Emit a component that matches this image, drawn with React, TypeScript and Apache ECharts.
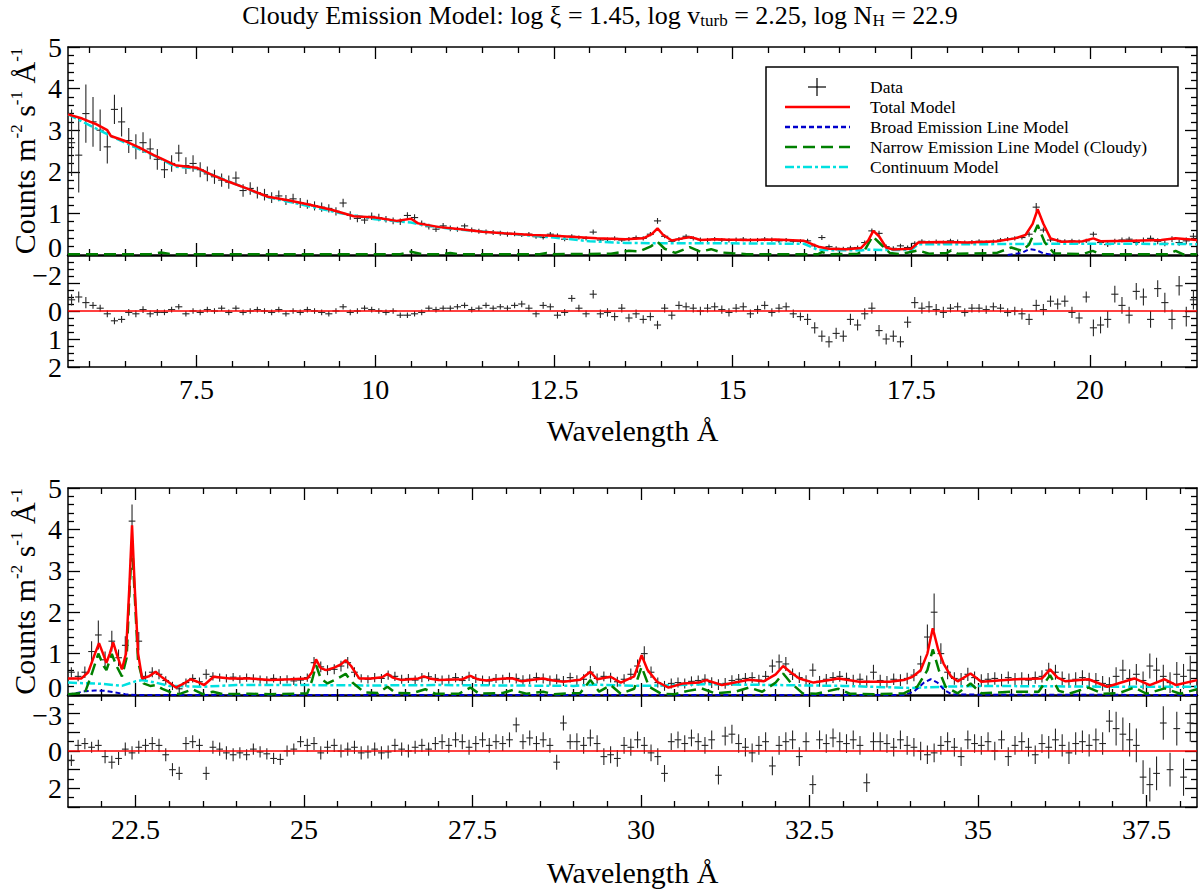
import { useEffect, useRef } from 'react';
import * as echarts from 'echarts';

const FONT = '"Liberation Serif", "Times New Roman", Times, serif';

// wavelength ranges of the two halves (Å)
const TOP_RANGE = [5.7, 21.5];
const BOTTOM_RANGE = [21.5, 38.25];
const TOP_MAJOR = [7.5, 10, 12.5, 15, 17.5, 20];
const BOTTOM_MAJOR = [22.5, 25, 27.5, 30, 32.5, 35, 37.5];

// data bins: 0.1 Å wide, centres start at these wavelengths
const BIN = 0.1;
const TOP_BIN_START = 5.75;
const BOTTOM_BIN_START = 21.55;

// ---- upper half: 5.75 .. 21.45 Å ----
const topFlux = [
  2.7, 2.4, 3.4,
  3.2, 3.0, 2.6, 3.5, 3.2, 2.75, 2.6, 2.7, 2.55, 2.3,
  2.05, 2.2, 2.45, 2.15, 2.2, 2.05, 1.95, 1.88, 1.8, 1.75,
  1.85, 1.55, 1.6, 1.5, 1.45, 1.38, 1.42, 1.32, 1.35, 1.25,
  1.22, 1.18, 1.15, 1.12, 1.05, 1.25, 0.95, 0.88, 0.84, 0.93,
  0.9, 0.86, 0.82, 0.8, 0.95, 0.9, 0.76, 0.68, 0.62, 0.7,
  0.64, 0.62, 0.7, 0.6, 0.57, 0.55, 0.54, 0.52, 0.5, 0.51,
  0.48, 0.5, 0.44, 0.42, 0.5, 0.47, 0.38, 0.45, 0.42, 0.4,
  0.55, 0.36, 0.37, 0.4, 0.36, 0.38, 0.42, 0.4, 0.5, 0.82,
  0.45, 0.33, 0.38, 0.45, 0.4, 0.37, 0.36, 0.38, 0.36, 0.35,
  0.37, 0.38, 0.35, 0.36, 0.38, 0.37, 0.34, 0.36, 0.33, 0.33,
  0.34, 0.22, 0.42, 0.2, 0.16, 0.15, 0.17, 0.18, 0.3, 0.58,
  0.52, 0.2, 0.16, 0.22, 0.18, 0.28, 0.33, 0.3, 0.32, 0.3,
  0.34, 0.32, 0.3, 0.31, 0.33, 0.3, 0.32, 0.36, 0.38, 0.4,
  0.42, 0.5, 1.15, 0.6, 0.36, 0.35, 0.33, 0.34, 0.32, 0.34,
  0.5, 0.3, 0.25, 0.33, 0.36, 0.38, 0.3, 0.35, 0.4, 0.33,
  0.28, 0.38, 0.3, 0.34, 0.45,
];
const topErr = [
  0.8, 0.9, 0.7,
  0.6, 0.5, 0.4, 0.35, 0.35, 0.3, 0.3, 0.25, 0.25, 0.25,
  0.2, 0.2, 0.2, 0.2, 0.2, 0.18, 0.18, 0.17, 0.16, 0.16,
  0.16, 0.15, 0.15, 0.14, 0.14, 0.13, 0.13, 0.12, 0.12, 0.12,
  0.11, 0.11, 0.11, 0.1, 0.1, 0.1, 0.1, 0.09, 0.09, 0.09,
  0.09, 0.08, 0.08, 0.08, 0.08, 0.08, 0.07, 0.07, 0.07, 0.07,
  0.07, 0.06, 0.06, 0.06, 0.06, 0.06, 0.06, 0.06, 0.06, 0.06,
  0.05, 0.05, 0.05, 0.05, 0.05, 0.05, 0.05, 0.05, 0.05, 0.05,
  0.06, 0.05, 0.05, 0.05, 0.05, 0.05, 0.05, 0.05, 0.05, 0.07,
  0.05, 0.05, 0.05, 0.05, 0.05, 0.05, 0.05, 0.05, 0.05, 0.05,
  0.05, 0.05, 0.05, 0.05, 0.05, 0.05, 0.05, 0.05, 0.05, 0.05,
  0.05, 0.05, 0.06, 0.05, 0.05, 0.05, 0.05, 0.05, 0.05, 0.06,
  0.06, 0.05, 0.05, 0.05, 0.05, 0.05, 0.05, 0.05, 0.05, 0.05,
  0.05, 0.05, 0.05, 0.05, 0.05, 0.05, 0.05, 0.05, 0.05, 0.05,
  0.05, 0.06, 0.1, 0.06, 0.05, 0.05, 0.05, 0.05, 0.05, 0.05,
  0.06, 0.06, 0.06, 0.06, 0.06, 0.06, 0.07, 0.07, 0.07, 0.07,
  0.07, 0.07, 0.08, 0.08, 0.08,
];
const topResid = [
  -0.4, -0.5, -0.3,
  -0.2, -0.1, 0.1, 0.35, 0.3, 0.05, 0.1, -0.05, 0.1, 0.05,
  0.05, -0.05, -0.15, 0.1, 0, 0.05, -0.05, 0, -0.1, 0.05,
  -0.1, 0.05, 0, -0.05, 0, 0.05, -0.05, 0.1, 0, 0.05,
  -0.05, 0, 0.05, 0.1, 0, -0.15, 0.05, 0, -0.1, -0.05,
  0, 0.05, 0, 0.15, 0.15, 0.1, 0.05, -0.1, -0.05, -0.1,
  -0.1, -0.15, -0.2, -0.05, -0.1, -0.2, -0.1, -0.15, -0.1, -0.2,
  -0.25, -0.1, 0.1, -0.2, -0.15, 0.15, 0.05, -0.45, -0.1, 0.1,
  -0.6, 0.1, 0.05, 0.2, -0.1, 0.25, 0.1, 0.3, 0.2, 0.5,
  -0.1, 0.15, -0.2, -0.15, -0.1, 0, -0.1, -0.15, -0.05, 0.05,
  -0.1, -0.15, 0.1, -0.05, -0.2, 0.05, -0.1, -0.15, 0.1, 0.2,
  0.3, 0.6, 0.9, 1.1, 0.8, 0.9, 0.3, 0.5, 0.1, -0.1,
  0.7, 1.0, 0.9, 1.1, 0.4, -0.3, -0.1, -0.15, -0.05, 0.05,
  -0.1, -0.15, 0.05, -0.1, -0.1, -0.05, -0.15, -0.1, 0.05, 0,
  0.1, 0.3, -0.2, -0.05, -0.35, -0.25, -0.35, 0.05, 0.25, -0.5,
  0.6, 0.5, 0.3, -0.6, -0.2, 0.15, -0.7, -0.5, 0.3, -0.8,
  -0.3, 0.3, -0.9, 0.2, -0.4,
];
// residual error per whole Å, starting at 5 Å
const topResidErr = [0.2, 0.12, 0.1, 0.1, 0.1, 0.1, 0.1, 0.12, 0.15, 0.15, 0.15, 0.2, 0.2, 0.15, 0.2, 0.3, 0.35];

const topTotal = [
  [5.7, 3.38], [5.9, 3.28], [6.1, 3.14], [6.25, 3.0], [6.3, 2.86], [6.5, 2.74], [6.7, 2.58], [6.9, 2.4],
  [7.0, 2.32], [7.2, 2.16], [7.5, 2.1], [7.7, 1.94], [7.95, 1.76], [8.2, 1.6], [8.5, 1.4], [8.8, 1.31],
  [9.1, 1.2], [9.4, 1.08], [9.7, 0.93], [10.0, 0.9], [10.3, 0.82], [10.5, 0.87], [10.6, 0.76], [10.9, 0.67],
  [11.2, 0.62], [11.5, 0.56], [11.8, 0.52], [12.2, 0.48], [12.5, 0.46], [12.8, 0.43], [13.1, 0.4], [13.5, 0.38],
  [13.75, 0.4], [13.87, 0.5], [13.95, 0.64], [14.03, 0.48], [14.15, 0.35], [14.3, 0.4], [14.42, 0.43], [14.55, 0.36],
  [14.75, 0.38], [14.9, 0.37], [15.2, 0.36], [15.6, 0.37], [16.0, 0.34], [16.2, 0.2], [16.35, 0.15], [16.6, 0.14],
  [16.8, 0.17], [16.9, 0.35], [16.97, 0.58], [17.05, 0.45], [17.15, 0.18], [17.25, 0.13], [17.5, 0.15], [17.6, 0.3],
  [17.9, 0.31], [18.3, 0.3], [18.7, 0.33], [18.95, 0.4], [19.1, 0.48], [19.2, 0.75], [19.27, 1.1], [19.35, 0.75],
  [19.45, 0.4], [19.6, 0.32], [19.9, 0.33], [20.05, 0.4], [20.15, 0.33], [20.6, 0.34], [21.0, 0.36], [21.2, 0.4],
  [21.5, 0.36],
];
const topContinuum = [
  [5.7, 3.38], [6.3, 2.86], [7.0, 2.31], [7.2, 2.12], [7.5, 2.08], [8.5, 1.39], [9.5, 1.01], [10.0, 0.86],
  [10.5, 0.78], [10.6, 0.74], [11.0, 0.64], [12.0, 0.49], [12.5, 0.42], [13.0, 0.33], [13.5, 0.29], [14.0, 0.28],
  [15.0, 0.28], [16.0, 0.27], [16.2, 0.12], [16.8, 0.11], [16.9, 0.13], [17.1, 0.12], [17.5, 0.12], [17.6, 0.26],
  [18.5, 0.26], [19.5, 0.27], [20.5, 0.27], [21.5, 0.26],
];
const topNarrow = [
  [5.7, 0.02], [6.85, 0.02], [7.0, 0.06], [7.15, 0.02], [10.35, 0.02], [10.5, 0.08], [10.65, 0.02], [10.95, 0.02],
  [11.05, 0.05], [11.15, 0.02], [12.3, 0.02], [12.4, 0.05], [12.5, 0.02], [13.3, 0.03], [13.55, 0.1], [13.7, 0.09],
  [13.85, 0.2], [13.95, 0.32], [14.05, 0.15], [14.2, 0.05], [14.4, 0.19], [14.55, 0.08], [14.7, 0.14], [14.85, 0.06],
  [15.0, 0.04], [15.2, 0.02], [16.2, 0.02], [16.25, 0.07], [16.35, 0.02], [16.75, 0.03], [16.85, 0.12], [16.96, 0.45],
  [17.05, 0.3], [17.2, 0.05], [17.35, 0.02], [17.6, 0.11], [17.75, 0.03], [18.0, 0.05], [18.06, 0.11], [18.15, 0.03],
  [18.7, 0.05], [18.9, 0.18], [19.05, 0.1], [19.15, 0.25], [19.27, 0.72], [19.37, 0.3], [19.5, 0.04], [19.9, 0.02],
  [20.04, 0.1], [20.15, 0.02], [21.1, 0.02], [21.2, 0.1], [21.3, 0.02], [21.5, 0.02],
];
// only the part above zero shows in the upper plot
const topBroad = [
  [18.85, 0], [19.05, 0.05], [19.15, 0.14], [19.25, 0.12], [19.35, 0.04], [19.5, 0],
];

// ---- lower half: 21.55 .. 38.15 Å ----
const bottomFlux = [
  0.55, 0.45, 0.55, 1.05, 1.45,
  0.85, 1.3, 0.9, 1.2, 4.2, 1.3, 0.45, 0.55, 0.5, 0.35,
  0.22, 0.15, 0.3, 0.4, 0.32, 0.5, 0.45, 0.42, 0.4, 0.43,
  0.38, 0.42, 0.4, 0.37, 0.35, 0.4, 0.36, 0.38, 0.34, 0.36,
  0.42, 0.78, 0.68, 0.6, 0.62, 0.7, 0.78, 0.55, 0.4, 0.38,
  0.42, 0.4, 0.48, 0.45, 0.38, 0.4, 0.36, 0.42, 0.44, 0.4,
  0.36, 0.38, 0.42, 0.35, 0.45, 0.4, 0.36, 0.34, 0.4, 0.38,
  0.42, 0.4, 0.36, 0.38, 0.42, 0.4, 0.35, 0.38, 0.34, 0.42,
  0.36, 0.38, 0.55, 0.4, 0.45, 0.42, 0.32, 0.38, 0.5, 0.7,
  1.0, 0.55, 0.3, 0.22, 0.28, 0.3, 0.28, 0.33, 0.35, 0.38,
  0.3, 0.25, 0.28, 0.35, 0.38, 0.4, 0.42, 0.36, 0.45, 0.7,
  0.8, 0.75, 0.5, 0.42, 0.35, 0.6, 0.33, 0.38, 0.42, 0.45,
  0.4, 0.35, 0.38, 0.33, 0.55, 0.35, 0.32, 0.38, 0.36, 0.4,
  0.48, 0.75, 1.4, 2.0, 1.0, 0.55, 0.4, 0.38, 0.5, 0.42,
  0.35, 0.38, 0.4, 0.36, 0.42, 0.38, 0.4, 0.36, 0.42, 0.45,
  0.6, 0.55, 0.4, 0.35, 0.38, 0.42, 0.36, 0.35, 0.28, 0.25,
  0.45, 0.6, 0.4, 0.5, 0.35, 0.7, 0.6, 0.45, 0.3, 0.5,
  0.45, 0.6,
];
const bottomErr = [
  0.12, 0.12, 0.14, 0.25, 0.35,
  0.2, 0.25, 0.2, 0.22, 0.4, 0.22, 0.12, 0.12, 0.12, 0.1,
  0.1, 0.1, 0.1, 0.1, 0.1, 0.12, 0.1, 0.1, 0.1, 0.1,
  0.1, 0.1, 0.1, 0.1, 0.1, 0.1, 0.1, 0.1, 0.1, 0.1,
  0.1, 0.14, 0.13, 0.12, 0.12, 0.13, 0.14, 0.12, 0.1, 0.1,
  0.11, 0.11, 0.11, 0.11, 0.11, 0.11, 0.11, 0.11, 0.11, 0.11,
  0.11, 0.11, 0.11, 0.11, 0.11, 0.11, 0.11, 0.11, 0.11, 0.11,
  0.12, 0.12, 0.12, 0.12, 0.12, 0.12, 0.12, 0.12, 0.12, 0.12,
  0.12, 0.12, 0.15, 0.12, 0.12, 0.12, 0.12, 0.12, 0.14, 0.16,
  0.18, 0.14, 0.12, 0.12, 0.12, 0.12, 0.12, 0.12, 0.12, 0.12,
  0.13, 0.13, 0.13, 0.13, 0.13, 0.13, 0.13, 0.13, 0.13, 0.16,
  0.18, 0.17, 0.14, 0.13, 0.13, 0.16, 0.13, 0.13, 0.13, 0.13,
  0.14, 0.14, 0.14, 0.14, 0.18, 0.14, 0.14, 0.14, 0.14, 0.14,
  0.15, 0.2, 0.3, 0.45, 0.25, 0.17, 0.15, 0.15, 0.16, 0.15,
  0.15, 0.15, 0.15, 0.15, 0.15, 0.15, 0.15, 0.15, 0.15, 0.15,
  0.18, 0.18, 0.17, 0.17, 0.17, 0.18, 0.18, 0.18, 0.18, 0.18,
  0.22, 0.25, 0.22, 0.25, 0.22, 0.3, 0.3, 0.28, 0.25, 0.3,
  0.3, 0.35,
];
const bottomResid = [
  0.5, -0.3, -0.4, -0.2, -0.3,
  0.3, 0.6, 0.4, -0.1, 0.1, -0.2, -0.3, -0.4, -0.3, 0.2,
  1.0, 1.2, -0.4, -0.5, -0.3, 1.2, -0.2, -0.1, 0.1, 0.2,
  0.1, 0.2, -0.1, 0.05, 0.15, 0.4, 0.45, 0, -0.1, -0.5,
  -0.3, -0.4, 0.1, -0.2, -0.3, 0, -0.1, -0.2, 0.1, 0.05,
  -0.1, 0.1, 0.05, -0.3, -0.1, 0, -0.2, -0.3, -0.1, -0.4,
  -0.5, -0.3, -0.6, -0.5, -0.2, -0.4, -0.6, -0.3, -0.5, -0.4,
  -0.6, -1.4, -0.5, -0.7, -0.4, -0.6, -0.3, 0.6, -1.5, -0.5,
  -0.5, -0.3, -0.7, -0.4, 0.3, 0.2, 0.4, -0.3, -0.2, -0.6,
  -0.3, 0.1, 0.3, 1.2, -0.5, -0.6, -0.4, -0.7, -0.5, -0.3,
  -0.6, 1.3, -0.8, -0.9, -0.4, -0.2, 0.1, -0.3, -0.5, 0.8,
  -0.3, -0.5, -0.6, 0.3, -0.5, 1.8, -0.6, -0.4, -0.7, -0.5,
  -0.4, -0.6, -0.3, 1.7, -0.5, -0.5, -0.4, -0.2, -0.6, -0.3,
  -0.2, 0, 0.2, 0.1, -0.3, -0.5, -0.2, 0.3, -0.6, -0.4,
  -0.3, -0.5, 0, -0.6, 0.3, -0.3, -0.5, -0.2, 0.2, -0.4,
  -0.2, -0.6, -0.3, 0.1, -0.4, -0.5, -0.3, -0.6, -0.4, -1.6,
  -1.2, -0.9, -0.6, -0.3, 1.4, 1.8, 1.2, -1.5, 1.0, -1.2,
  1.4, -1.5,
];
// residual error per whole Å, starting at 21 Å
const bottomResidErr = [0.3, 0.35, 0.35, 0.3, 0.35, 0.35, 0.4, 0.4, 0.45, 0.45, 0.5, 0.5, 0.5, 0.5, 0.5, 0.6, 0.9, 1.0];

const bottomTotal = [
  [21.5, 0.4], [21.7, 0.4], [21.8, 0.55], [21.9, 1.0], [21.96, 1.25], [22.02, 1.0], [22.07, 0.78], [22.12, 1.0],
  [22.17, 1.27], [22.23, 0.95], [22.3, 0.62], [22.36, 1.0], [22.41, 2.6], [22.45, 4.1], [22.49, 2.6], [22.54, 1.0],
  [22.6, 0.4], [22.7, 0.45], [22.8, 0.56], [22.9, 0.42], [23.0, 0.3], [23.1, 0.18], [23.2, 0.26], [23.32, 0.38],
  [23.42, 0.32], [23.52, 0.24], [23.66, 0.44], [23.9, 0.4], [24.2, 0.4], [24.5, 0.36], [24.8, 0.38], [25.05, 0.4],
  [25.12, 0.55], [25.18, 0.86], [25.25, 0.65], [25.33, 0.6], [25.45, 0.66], [25.55, 0.74], [25.62, 0.84], [25.7, 0.7],
  [25.82, 0.4], [26.0, 0.4], [26.16, 0.43], [26.24, 0.51], [26.32, 0.42], [26.45, 0.36], [26.7, 0.4], [26.78, 0.45],
  [26.86, 0.4], [27.0, 0.36], [27.35, 0.38], [27.47, 0.46], [27.58, 0.38], [27.7, 0.35], [27.97, 0.4], [28.1, 0.4],
  [28.23, 0.33], [28.4, 0.37], [28.54, 0.4], [28.7, 0.35], [28.85, 0.32], [29.1, 0.37], [29.25, 0.56], [29.35, 0.38],
  [29.55, 0.44], [29.7, 0.3], [29.9, 0.45], [30.01, 0.96], [30.1, 0.6], [30.24, 0.32], [30.41, 0.18], [30.63, 0.28],
  [30.86, 0.3], [30.97, 0.36], [31.2, 0.24], [31.45, 0.32], [31.6, 0.37], [31.82, 0.33], [32.0, 0.5], [32.11, 0.7],
  [32.22, 0.55], [32.35, 0.4], [32.56, 0.3], [32.8, 0.36], [32.93, 0.4], [33.24, 0.32], [33.69, 0.32], [33.9, 0.36],
  [34.03, 0.44], [34.15, 0.6], [34.25, 1.0], [34.33, 1.61], [34.41, 1.1], [34.49, 0.76], [34.6, 0.45], [34.7, 0.33],
  [34.89, 0.52], [35.05, 0.32], [35.56, 0.38], [35.95, 0.4], [36.07, 0.62], [36.18, 0.42], [36.3, 0.33], [36.64, 0.38],
  [36.92, 0.2], [37.32, 0.4], [37.55, 0.24], [37.77, 0.38], [37.94, 0.24], [38.25, 0.36],
];
const bottomContinuum = [
  [21.5, 0.3], [22.0, 0.27], [22.3, 0.22], [22.5, 0.33], [22.6, 0.36], [22.8, 0.3], [23.0, 0.22], [23.5, 0.2],
  [24.0, 0.24], [25.0, 0.24], [26.0, 0.23], [27.0, 0.24], [28.0, 0.23], [29.0, 0.22], [29.3, 0.25], [30.0, 0.22],
  [31.0, 0.26], [32.0, 0.24], [33.0, 0.22], [34.0, 0.17], [34.5, 0.2], [35.0, 0.22], [36.0, 0.21], [37.0, 0.2],
  [38.25, 0.2],
];
const bottomNarrow = [
  [21.5, 0.02], [21.75, 0.05], [21.85, 0.5], [21.95, 1.0], [22.03, 0.7], [22.07, 0.6], [22.15, 0.99], [22.22, 0.7],
  [22.3, 0.45], [22.37, 0.9], [22.41, 2.4], [22.45, 3.7], [22.49, 2.4], [22.54, 0.8], [22.62, 0.28], [22.72, 0.22],
  [22.8, 0.24], [22.9, 0.15], [23.0, 0.08], [23.15, 0.02], [23.35, 0.14], [23.5, 0.02], [23.65, 0.08], [23.8, 0.02],
  [24.2, 0.03], [24.5, 0.02], [25.05, 0.04], [25.12, 0.35], [25.18, 0.72], [25.25, 0.4], [25.35, 0.28], [25.5, 0.4],
  [25.62, 0.51], [25.72, 0.3], [25.9, 0.06], [26.1, 0.05], [26.24, 0.2], [26.36, 0.05], [26.6, 0.04], [26.8, 0.14],
  [26.95, 0.03], [27.3, 0.03], [27.47, 0.18], [27.6, 0.03], [27.95, 0.05], [28.1, 0.12], [28.3, 0.03], [28.55, 0.08],
  [28.7, 0.02], [29.1, 0.05], [29.25, 0.36], [29.38, 0.08], [29.55, 0.24], [29.7, 0.03], [29.9, 0.15], [30.01, 0.68],
  [30.12, 0.2], [30.3, 0.03], [30.5, 0.02], [30.7, 0.1], [30.9, 0.16], [31.1, 0.04], [31.4, 0.08], [31.6, 0.18],
  [31.8, 0.08], [32.0, 0.3], [32.11, 0.52], [32.22, 0.3], [32.4, 0.04], [32.6, 0.03], [32.93, 0.15], [33.1, 0.03],
  [33.5, 0.02], [33.9, 0.04], [34.1, 0.2], [34.25, 0.6], [34.33, 1.1], [34.42, 0.6], [34.52, 0.2], [34.7, 0.04],
  [34.89, 0.28], [35.05, 0.04], [35.5, 0.08], [35.9, 0.08], [36.07, 0.48], [36.2, 0.1], [36.35, 0.03], [36.64, 0.18],
  [36.85, 0.03], [37.1, 0.05], [37.32, 0.18], [37.5, 0.03], [37.77, 0.16], [38.0, 0.03], [38.25, 0.14],
];
const bottomBroad = [
  [21.5, 0.01], [21.6, 0.04], [21.75, 0.09], [21.9, 0.11], [22.05, 0.1], [22.2, 0.06], [22.35, 0.02], [22.5, 0],
  [33.9, 0], [34.05, 0.08], [34.2, 0.3], [34.3, 0.38], [34.4, 0.3], [34.5, 0.12], [34.62, 0.01], [38.25, 0],
];

const LEGEND = [
  { label: 'Data', color: '#000', dash: null },
  { label: 'Total Model', color: '#ff0000', dash: [] },
  { label: 'Broad Emission Line Model', color: '#0000cc', dash: [5, 3] },
  { label: 'Narrow Emission Line Model (Cloudy)', color: '#008000', dash: [12, 6] },
  { label: 'Continuum Model', color: '#00e0e0', dash: [9, 3, 3, 3] },
];

// grid geometry, px
const PLOT_LEFT = 68;
const PLOT_RIGHT = 3;
const GRIDS = [
  { top: 47, height: 208 },
  { top: 255, height: 112 },
  { top: 488, height: 207 },
  { top: 695, height: 112 },
];

function halfSteps(from: number, to: number, skip: number[]) {
  const out: number[] = [];
  for (let v = from; v <= to + 1e-9; v += 0.5) {
    const r = Math.round(v * 10) / 10;
    if (!skip.includes(r)) out.push(r);
  }
  return out;
}
const TOP_MINOR = halfSteps(6, 21, TOP_MAJOR);
const BOTTOM_MINOR = halfSteps(22, 38, BOTTOM_MAJOR);

const tickLine = { color: '#000', width: 1.3 };
const labelStyle = { color: '#000', fontSize: 28, fontFamily: FONT };

function xAxesFor(grid: number, range: number[], major: number[], minor: number[], topWidth: number, bottomWidth: number, labels: boolean) {
  const axis = (position: string, ticks: number[], len: number, lineWidth: number, showLabel: boolean) => ({
    type: 'value',
    gridIndex: grid,
    min: range[0],
    max: range[1],
    position,
    axisLine: { show: lineWidth > 0, onZero: false, lineStyle: { color: '#000', width: lineWidth } },
    axisTick: { show: true, inside: true, length: len, customValues: ticks, lineStyle: tickLine },
    axisLabel: showLabel
      ? { show: true, customValues: major, formatter: (v: number) => String(v), margin: 8, ...labelStyle }
      : { show: false },
    splitLine: { show: false },
  });
  return [
    axis('top', major, 12, topWidth, false),
    axis('top', minor, 6, 0, false),
    axis('bottom', major, 12, bottomWidth, labels),
    axis('bottom', minor, 6, 0, false),
  ];
}

function yAxesFor(grid: number, min: number, max: number, minorSplit: number, inverse: boolean, formatter: (v: number) => string) {
  const common = {
    type: 'value',
    gridIndex: grid,
    min,
    max,
    interval: 1,
    inverse,
    splitLine: { show: false },
    axisLine: { show: true, onZero: false, lineStyle: { color: '#000', width: 1.5 } },
    axisTick: { show: true, inside: true, length: 12, lineStyle: tickLine },
    minorTick: { show: true, splitNumber: minorSplit, length: 6, lineStyle: tickLine },
  };
  return [
    { ...common, position: 'left', axisLabel: { show: true, margin: 6, formatter, ...labelStyle } },
    { ...common, position: 'right', axisLabel: { show: false } },
  ];
}

function errorBars(xi: number, yi: number, data: number[][]) {
  const half = BIN / 2;
  return {
    type: 'custom',
    xAxisIndex: xi,
    yAxisIndex: yi,
    clip: true,
    silent: true,
    z: 2,
    encode: { x: 0, y: 1 },
    data,
    renderItem: (_params: any, api: any) => {
      const x = api.value(0);
      const y = api.value(1);
      const e = api.value(2);
      const hi = api.coord([x, y + e]);
      const lo = api.coord([x, y - e]);
      const l = api.coord([x - half, y]);
      const r = api.coord([x + half, y]);
      const style = { stroke: '#262626', lineWidth: 1.1 };
      return {
        type: 'group',
        children: [
          { type: 'line', shape: { x1: hi[0], y1: hi[1], x2: lo[0], y2: lo[1] }, style },
          { type: 'line', shape: { x1: l[0], y1: l[1], x2: r[0], y2: r[1] }, style },
        ],
      };
    },
  };
}

function modelLine(xi: number, yi: number, data: number[][], color: string, width: number, dash: any, z: number) {
  return {
    type: 'line',
    xAxisIndex: xi,
    yAxisIndex: yi,
    data,
    symbol: 'none',
    showSymbol: false,
    silent: true,
    clip: true,
    z,
    lineStyle: { color, width, type: dash, cap: 'butt' },
  };
}

const binned = (start: number, ys: number[], errs: number[]) =>
  ys.map((y, i) => [Math.round((start + i * BIN) * 100) / 100, y, errs[i]]);

const residuals = (start: number, rs: number[], segErr: number[], seg0: number) =>
  rs.map((r, i) => {
    const x = Math.round((start + i * BIN) * 100) / 100;
    return [x, r, segErr[Math.floor(x) - seg0]];
  });

function legendGraphics() {
  const x0 = 766;
  const y0 = 67;
  const children: any[] = [
    { type: 'rect', shape: { x: x0, y: y0, width: 412, height: 119 }, style: { fill: '#fff', stroke: '#000', lineWidth: 1.5 } },
  ];
  LEGEND.forEach((item, i) => {
    const y = y0 + 20 + i * 20;
    if (item.dash === null) {
      children.push({ type: 'line', shape: { x1: 808, y1: y, x2: 826, y2: y }, style: { stroke: '#000', lineWidth: 1.2 } });
      children.push({ type: 'line', shape: { x1: 817, y1: y - 9, x2: 817, y2: y + 9 }, style: { stroke: '#000', lineWidth: 1.2 } });
    } else {
      children.push({
        type: 'line',
        shape: { x1: 785, y1: y, x2: 850, y2: y },
        style: { stroke: item.color, lineWidth: 2.5, lineDash: item.dash.length ? item.dash : null },
      });
    }
    children.push({
      type: 'text',
      x: 870,
      y,
      style: { text: item.label, fontSize: 17.5, fontFamily: FONT, fill: '#000', align: 'left', verticalAlign: 'middle' },
    });
  });
  return { type: 'group', z: 100, children };
}

// tick labels that sit off their tick, to keep clear of the panel joins
function shiftedLabel(text: string, y: number) {
  return {
    type: 'text',
    x: PLOT_LEFT - 6,
    y,
    z: 100,
    style: { text, ...labelStyle, fill: '#000', align: 'right', verticalAlign: 'middle' },
  };
}

function textGraphics() {
  const plotCenter = (PLOT_LEFT + (1200 - PLOT_RIGHT)) / 2;
  const yTitle = (cy: number) => ({
    type: 'text',
    x: 24,
    y: cy,
    rotation: Math.PI / 2,
    z: 100,
    style: {
      text: 'Counts m{sup|-2} s{sup|-1} Å{sup|-1}',
      fontSize: 30,
      fontFamily: FONT,
      fill: '#000',
      align: 'center',
      verticalAlign: 'middle',
      rich: { sup: { fontSize: 17, fontFamily: FONT, fill: '#000', padding: [0, 0, 16, 0] } },
    },
  });
  const xTitle = (cy: number) => ({
    type: 'text',
    x: plotCenter,
    y: cy,
    z: 100,
    style: { text: 'Wavelength Å', fontSize: 30, fontFamily: FONT, fill: '#000', align: 'center', verticalAlign: 'middle' },
  });
  return [
    {
      type: 'text',
      x: 600,
      y: 15,
      z: 100,
      style: {
        text: 'Cloudy Emission Model: log ξ = 1.45, log v{sub|turb} = 2.25, log N{sub|H} = 22.9',
        fontSize: 26,
        fontFamily: FONT,
        fill: '#000',
        align: 'center',
        verticalAlign: 'middle',
        rich: { sub: { fontSize: 17, fontFamily: FONT, fill: '#000', padding: [10, 0, 0, 0] } },
      },
    },
    yTitle(GRIDS[0].top + GRIDS[0].height / 2),
    yTitle(GRIDS[2].top + GRIDS[2].height / 2),
    xTitle(430),
    xTitle(872),
    shiftedLabel('0', GRIDS[0].top + GRIDS[0].height - 8),
    shiftedLabel('−2', GRIDS[1].top + 20),
    shiftedLabel('0', GRIDS[2].top + GRIDS[2].height - 8),
    shiftedLabel('−3', GRIDS[3].top + 20),
  ];
}

export default function App() {
  const chartRef = useRef<HTMLDivElement>(null);

  useEffect(() => {
    if (!chartRef.current) return;
    const chart = echarts.init(chartRef.current, undefined, { renderer: 'svg' });

    // labels drawn off-tick (0 of the spectra, top of the residuals) come from textGraphics
    const specLabel = (v: number) => (v === 0 ? '' : String(v));
    const topResLabel = (v: number) => (v === 0 || v === 1 || v === 2 ? String(v) : '');
    const bottomResLabel = (v: number) => (v === 0 || v === 2 ? String(v) : '');

    const xAxis = [
      ...xAxesFor(0, TOP_RANGE, TOP_MAJOR, TOP_MINOR, 1.5, 2.5, false),
      ...xAxesFor(1, TOP_RANGE, TOP_MAJOR, TOP_MINOR, 1, 1.5, true),
      ...xAxesFor(2, BOTTOM_RANGE, BOTTOM_MAJOR, BOTTOM_MINOR, 1.5, 2.5, false),
      ...xAxesFor(3, BOTTOM_RANGE, BOTTOM_MAJOR, BOTTOM_MINOR, 1, 1.5, true),
    ];
    const yAxis = [
      ...yAxesFor(0, 0, 5, 5, false, specLabel),
      ...yAxesFor(1, -2, 2, 4, true, topResLabel),
      ...yAxesFor(2, 0, 5, 5, false, specLabel),
      ...yAxesFor(3, -3, 3, 2, true, bottomResLabel),
    ];

    const red = '#ff0000';
    const blue = '#0000cc';
    const green = '#008000';
    const cyan = '#00e0e0';

    const series = [
      // upper spectrum
      errorBars(0, 0, binned(TOP_BIN_START, topFlux, topErr)),
      modelLine(0, 0, topContinuum, cyan, 2.5, [9, 3, 3, 3], 3),
      modelLine(0, 0, topBroad, blue, 2, [5, 3], 4),
      modelLine(0, 0, topNarrow, green, 2.5, [12, 6], 5),
      modelLine(0, 0, topTotal, red, 2.5, 'solid', 6),
      // upper residuals
      errorBars(4, 2, residuals(TOP_BIN_START, topResid, topResidErr, 5)),
      modelLine(4, 2, [[TOP_RANGE[0], 0], [TOP_RANGE[1], 0]], red, 1.5, 'solid', 3),
      // lower spectrum
      errorBars(8, 4, binned(BOTTOM_BIN_START, bottomFlux, bottomErr)),
      modelLine(8, 4, bottomContinuum, cyan, 2.5, [9, 3, 3, 3], 3),
      modelLine(8, 4, bottomBroad, blue, 2, [5, 3], 4),
      modelLine(8, 4, bottomNarrow, green, 2.5, [12, 6], 5),
      modelLine(8, 4, bottomTotal, red, 2.5, 'solid', 6),
      // lower residuals
      errorBars(12, 6, residuals(BOTTOM_BIN_START, bottomResid, bottomResidErr, 21)),
      modelLine(12, 6, [[BOTTOM_RANGE[0], 0], [BOTTOM_RANGE[1], 0]], red, 1.5, 'solid', 3),
    ];

    const option: any = {
      animation: false,
      backgroundColor: '#fff',
      grid: GRIDS.map((g) => ({ left: PLOT_LEFT, right: PLOT_RIGHT, top: g.top, height: g.height, containLabel: false })),
      xAxis,
      yAxis,
      series,
      graphic: [legendGraphics(), ...textGraphics()],
    };

    chart.setOption(option);

    return () => {
      chart.dispose();
    };
  }, []);

  return (
    <div
      ref={chartRef}
      style={{ position: 'fixed', left: 0, top: 0, width: '1200px', height: '890px', background: '#fff' }}
    />
  );
}
